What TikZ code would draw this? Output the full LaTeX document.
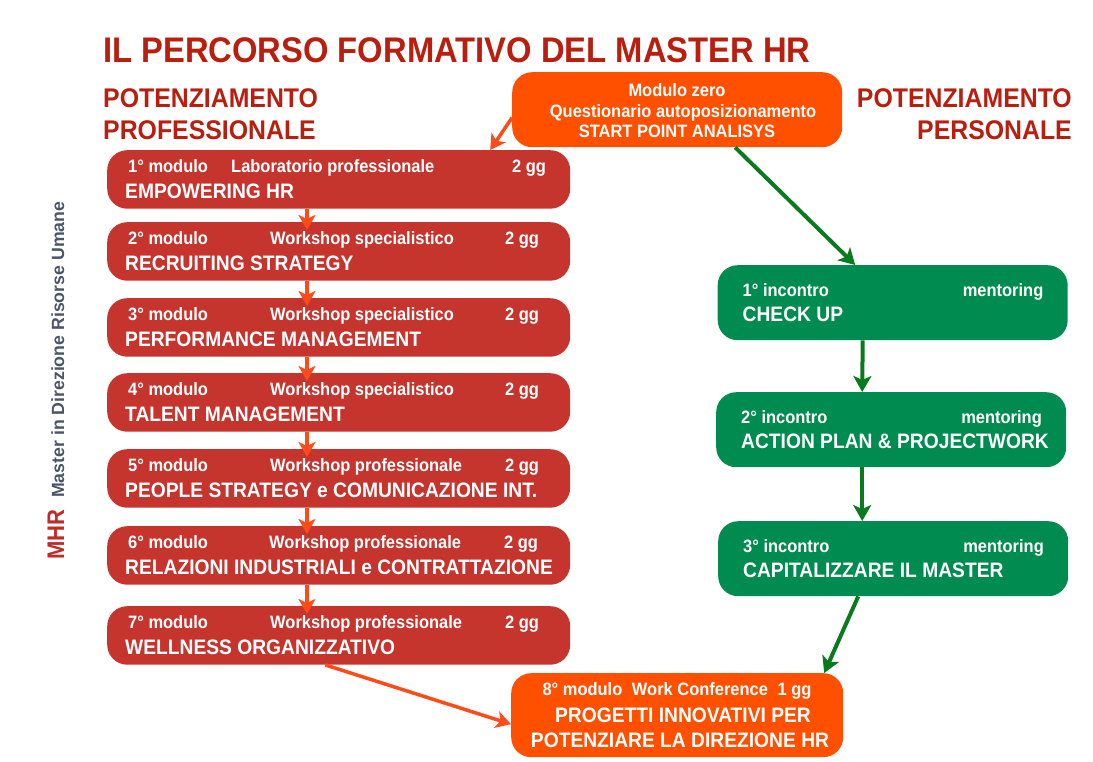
\documentclass[tikz,border=0pt]{standalone}
\usepackage{fontspec}
\setmainfont[FakeStretch=0.92]{Liberation Sans}
\newfontfamily\plainsans{Liberation Sans}
\usetikzlibrary{arrows.meta}
\definecolor{titlered}{RGB}{185,30,15}
\definecolor{modred}{RGB}{197,53,46}
\definecolor{zeroorange}{RGB}{255,80,0}
\definecolor{mentorgreen}{RGB}{0,140,80}
\definecolor{arrowred}{RGB}{255,75,25}
\definecolor{arrowgreen}{RGB}{10,122,30}
\definecolor{mhrred}{RGB}{190,45,40}
\definecolor{mhrgray}{RGB}{75,85,105}
\tikzset{
  redbox/.style={fill=modred, rounded corners=20pt, minimum width=463pt, minimum height=58.5pt, anchor=north west, inner sep=0pt},
  greenbox/.style={fill=mentorgreen, rounded corners=20pt, minimum width=350pt, minimum height=75pt, anchor=north west, inner sep=0pt},
  orangebox/.style={fill=zeroorange, rounded corners=20pt, anchor=north west, inner sep=0pt},
  smalltxt/.style={text=white, font=\fontsize{17.9}{20}\selectfont\bfseries, inner sep=0pt, anchor=base west},
  bigtxt/.style={text=white, font=\fontsize{20.9}{24}\selectfont\bfseries, inner sep=0pt, anchor=base west},
  titletxt/.style={text=titlered, font=\fontsize{35.6}{40}\selectfont\bfseries, inner sep=0pt, anchor=base west},
  headtxt/.style={text=titlered, font=\fontsize{27}{30}\selectfont\bfseries, inner sep=0pt},
  redarrow/.style={draw=arrowred, line width=3.5pt, -{Stealth[length=15pt,width=17pt,inset=4pt]}},
  greenarrow/.style={draw=arrowgreen, line width=4pt, -{Stealth[length=16pt,width=18pt,inset=4pt]}}
}
\begin{document}
\begin{tikzpicture}[x=1pt,y=-1pt]
\useasboundingbox (0,0) rectangle (1093,761);

% titoli
\node[titletxt] (title) at (103,62) {IL PERCORSO FORMATIVO DEL MASTER HR};
\node[headtxt, anchor=base west] (prof1) at (103,107.5) {POTENZIAMENTO};
\node[headtxt, anchor=base west] (prof2) at (103,139.5) {PROFESSIONALE};
\node[headtxt, anchor=base east] (pers1) at (1072,107.5) {POTENZIAMENTO};
\node[headtxt, anchor=base east] (pers2) at (1072,139.5) {PERSONALE};

% scritta verticale
\node[rotate=90, anchor=base west, inner sep=0pt, text=mhrred, font=\fontsize{24}{26}\selectfont\bfseries] (mhr) at (64,560) {MHR};
\node[rotate=90, anchor=base west, inner sep=0pt, text=mhrgray, font=\plainsans\fontsize{17.7}{20}\selectfont\bfseries] (mhrsub) at (64,498) {Master in Direzione Risorse Umane};

% moduli professionali
\foreach \i/\ytop/\tx/\gx/\typ/\ttl in {
  1/150/231/512/Laboratorio professionale/EMPOWERING HR,
  2/222/270/505/Workshop specialistico/RECRUITING STRATEGY,
  3/298/270/505/Workshop specialistico/PERFORMANCE MANAGEMENT,
  4/373/270/505/Workshop specialistico/TALENT MANAGEMENT,
  5/449/270/505/Workshop professionale/PEOPLE STRATEGY e COMUNICAZIONE INT.,
  6/526/269/504/Workshop professionale/RELAZIONI INDUSTRIALI e CONTRATTAZIONE,
  7/606/270/505/Workshop professionale/WELLNESS ORGANIZZATIVO}
{
  \node[redbox] (m\i) at (107,\ytop) {};
  \node[smalltxt] (mn\i) at (128,\ytop+22) {\i° modulo};
  \node[smalltxt] (mt\i) at (\tx,\ytop+22) {\typ};
  \node[smalltxt] (md\i) at (\gx,\ytop+22) {2 gg};
  \node[bigtxt] (mh\i) at (125,\ytop+48.5) {\ttl};
}

% modulo zero
\node[orangebox, minimum width=330pt, minimum height=75pt] (zero) at (512,72) {};
\node[smalltxt, anchor=base] (zero1) at (677,96) {Modulo zero};
\node[smalltxt, anchor=base] (zero2) at (683,117) {Questionario autoposizionamento};
\node[smalltxt, anchor=base] (zero3) at (677,137.5) {START POINT ANALISYS};

% incontri di mentoring
\foreach \i/\xl/\ytop/\ttl in {
  1/717.5/265/CHECK UP,
  2/716/392/ACTION PLAN \& PROJECTWORK,
  3/718/521/CAPITALIZZARE IL MASTER}
{
  \node[greenbox] (inc\i) at (\xl,\ytop) {};
  \node[smalltxt] (incn\i) at (\xl+25,\ytop+31) {\i° incontro};
  \node[smalltxt, anchor=base east] (incm\i) at (\xl+326,\ytop+31) {mentoring};
  \node[bigtxt] (inch\i) at (\xl+25,\ytop+56) {\ttl};
}

% work conference
\node[orangebox, minimum width=332pt, minimum height=84pt] (conf) at (511,673) {};
\node[smalltxt, anchor=base] (conf1) at (677,695) {8° modulo\hspace{5pt} Work Conference\hspace{5pt} 1 gg};
\node[bigtxt, anchor=base] (conf2) at (683,722) {PROGETTI INNOVATIVI PER};
\node[bigtxt, anchor=base] (conf3) at (680,747) {POTENZIARE LA DIREZIONE HR};

% frecce
\coordinate (ax) at (307,0);
\foreach \i/\j in {1/2,2/3,3/4,4/5,5/6,6/7}
  \draw[redarrow, shorten >=-8pt] (m\i.south -| ax) -- (m\j.north -| ax);
\draw[redarrow] ([yshift=-8pt]zero.west) -- ([xshift=151.5pt]m1.north);
\draw[redarrow] ([xshift=-13.5pt]m7.south) -- ([yshift=-9pt]conf.west);
\draw[greenarrow] ([xshift=58pt]zero.south) -- ([xshift=-37.5pt]inc1.north);
\draw[greenarrow] ([xshift=-30pt]inc1.south) -- ([xshift=-29pt]inc2.north);
\draw[greenarrow] ([xshift=-29pt]inc2.south) -- ([xshift=-31pt]inc3.north);
\draw[greenarrow] ([xshift=-35pt]inc3.south) -- ([xshift=147pt]conf.north);
\end{tikzpicture}
\end{document}
